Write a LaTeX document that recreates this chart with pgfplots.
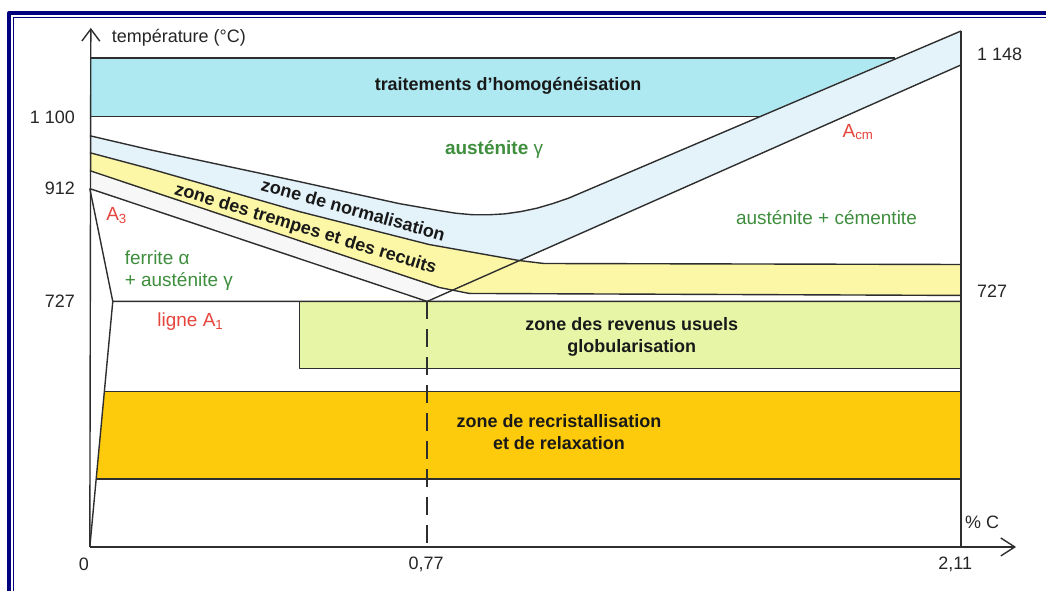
\documentclass[border=0pt]{standalone}
\usepackage{fontspec}
\setmainfont{Liberation Sans}
\usepackage{pgfplots}
\pgfplotsset{compat=1.18}
\usetikzlibrary{arrows.meta}
\definecolor{navyb}{HTML}{00007F}
\definecolor{homog}{HTML}{AEE9F2}
\definecolor{normb}{HTML}{E3F3F9}
\definecolor{tremp}{HTML}{FCF7A6}
\definecolor{reven}{HTML}{E6F6A6}
\definecolor{recri}{HTML}{FDCB0C}
\definecolor{lin}{HTML}{2E2E2E}
\definecolor{vert}{HTML}{3E8E3E}
\definecolor{rouge}{HTML}{E5453D}
\begin{document}
\begin{tikzpicture}
\begin{axis}[
    width=524pt, height=296pt, scale only axis,
    xmin=0, xmax=1048, ymin=0, ymax=592, y dir=reverse,
    axis lines=none, ticks=none, clip=false,
    every axis plot/.append style={line join=round},
]
% fond
\addplot[fill=white, draw=none] coordinates {(0,0) (1048,0) (1048,592) (0,592)} -- cycle;
% zones
\addplot[fill=homog, draw=none] coordinates {(90,58) (897,58) (760,117) (90,117)} -- cycle;
\addplot[fill=normb, draw=none] coordinates {(90,136) (150,150) (300,182) (400,204) (440,211) (456.5,213.6) (472.9,215.1) (489.3,215.2) (505.5,214.3) (521.7,212) (537.9,208.6) (554,203.9) (570,198.4) (963,31) (963,65) (520,261) (430,245) (300,212) (150,169) (90,153)} -- cycle;
\addplot[fill=tremp, draw=none] coordinates {(90,153) (150,169) (300,212) (430,245) (520,261) (545,264) (963,265) (963,296) (470,294) (440,288) (90,171)} -- cycle;
\addplot[fill=black!3, draw=none] coordinates {(90,171) (440,288) (428,302) (90,189)} -- cycle;
\addplot[fill=reven, draw=none] coordinates {(300,302) (963,302) (963,369) (300,369)} -- cycle;
\addplot[fill=recri, draw=none] coordinates {(104.6,392) (963,392) (963,480) (96.4,480)} -- cycle;
% lignes
\begin{scope}[line width=0.7pt]
\addplot[lin, -{Straight Barb[length=6pt,width=9pt]}] coordinates {(90,548) (91,28)};
\addplot[lin, -{Straight Barb[length=7pt,width=9pt]}] coordinates {(90,548) (1018,548)};
\addplot[lin] coordinates {(963,31) (963,548)};
\addplot[lin] coordinates {(90,58) (897,58)};
\addplot[lin] coordinates {(90,117) (760,117)};
\addplot[lin] coordinates {(90,136) (150,150) (300,182) (400,204) (440,211) (456.5,213.6) (472.9,215.1) (489.3,215.2) (505.5,214.3) (521.7,212) (537.9,208.6) (554,203.9) (570,198.4) (963,31)};
\addplot[lin] coordinates {(90,153) (150,169) (300,212) (430,245) (520,261) (545,264) (963,265)};
\addplot[lin] coordinates {(428,302) (963,65)};
\addplot[lin] coordinates {(90,171) (440,288) (470,294) (963,296)};
\addplot[lin] coordinates {(90,189) (428,302)};
\addplot[lin] coordinates {(90,189) (113,302) (963,302)};
\addplot[lin] coordinates {(113,302) (90,548)};
\addplot[lin] coordinates {(300,302) (300,369) (963,369)};
\addplot[lin] coordinates {(104.6,392) (963,392)};
\addplot[lin] coordinates {(96.4,480) (963,480)};
\addplot[lin, dash pattern=on 9pt off 5pt] coordinates {(428,302) (428,548)};
\end{scope}
% cadre
\addplot[navyb, line width=2pt] coordinates {(9,592) (9,13) (1048,13)};
\addplot[navyb, line width=0.8pt] coordinates {(13.5,592) (13.5,17.5) (1048,17.5)};
% graduations
\begin{scope}[font=\fontsize{9}{10}\selectfont, text=black!85]
\node[anchor=west] at (axis cs:105,38) {température (°C)};
\node[anchor=east] at (axis cs:82,118) {1 100};
\node[anchor=east] at (axis cs:82,189) {912};
\node[anchor=east] at (axis cs:82,302) {727};
\node[anchor=west] at (axis cs:972,54) {1 148};
\node[anchor=west] at (axis cs:972,292) {727};
\node at (axis cs:84,565) {0};
\node at (axis cs:427,565) {0,77};
\node at (axis cs:957,565) {2,11};
\node at (axis cs:984,523) {\% C};
\end{scope}
% textes des zones
\begin{scope}[font=\fontsize{9}{11}\selectfont\bfseries, text=black!90, align=center]
\node at (axis cs:509,86) {traitements d'homogénéisation};
\node[rotate=-15.5, inner sep=0pt] at (axis cs:354,210) {zone de normalisation};
\node[rotate=-17, inner sep=0pt] at (axis cs:306,230) {zone des trempes et des recuits};
\node at (axis cs:633,338) {zone des revenus usuels\\globularisation};
\node at (axis cs:560,433) {zone de recristallisation\\et de relaxation};
\end{scope}
\begin{scope}[font=\fontsize{9.5}{11}\selectfont]
\node[text=vert, font=\fontsize{9.5}{11}\selectfont\bfseries] at (axis cs:495,150) {austénite \textmd{γ}};
\node[text=vert] at (axis cs:828,218) {austénite + cémentite};
\node[text=vert, anchor=west, align=left] at (axis cs:118,271) {ferrite α\\+ austénite γ};
\node[text=rouge] at (axis cs:860,132) {A\textsubscript{cm}};
\node[text=rouge] at (axis cs:117,216) {A\textsubscript{3}};
\node[text=rouge] at (axis cs:191,322) {ligne A\textsubscript{1}};
\end{scope}
\end{axis}
\end{tikzpicture}
\end{document}
